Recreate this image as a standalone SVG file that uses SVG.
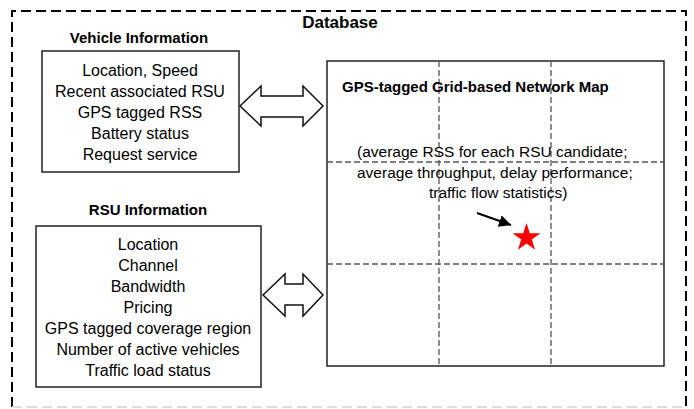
<svg xmlns="http://www.w3.org/2000/svg" width="694" height="409" viewBox="0 0 694 409">
<style>
.t{font-family:"Liberation Sans",Arial,sans-serif;font-size:16px;fill:#000;text-anchor:middle}
.p{font-family:"Liberation Sans",Arial,sans-serif;font-size:15.5px;fill:#000;text-anchor:start}
.b{font-family:"Liberation Sans",Arial,sans-serif;font-weight:bold;fill:#000}
.box{fill:#fff;stroke:#222;stroke-width:1.5}
.grid{stroke:#555;stroke-width:1.3;stroke-dasharray:6 3;fill:none}
.dbl{fill:#fff;stroke:#111;stroke-width:1.5;stroke-linejoin:miter}
</style>
<defs>
<marker id="ah" markerWidth="8" markerHeight="8" refX="6" refY="3" orient="auto" markerUnits="strokeWidth">
<path d="M0,0 L6,3 L0,6 z" fill="#000"/>
</marker>
</defs>
<rect width="694" height="409" fill="#fff"/>
<g id="database">
<path d="M12,407 L12,11 L686,11 L686,407" fill="none" stroke="#000" stroke-width="2" stroke-dasharray="10 5"/>
<path d="M12,407 L686,407" fill="none" stroke="#ddd" stroke-width="2" stroke-dasharray="10 5"/>
<text class="b" x="340" y="28" font-size="17" text-anchor="middle">Database</text>
</g>
<g id="vehicle">
<text class="b" x="139" y="43" font-size="15" text-anchor="middle">Vehicle Information</text>
<rect class="box" x="42" y="51" width="197" height="121"/>
<text class="t" x="140" y="76">Location, Speed</text>
<text class="t" x="140" y="97">Recent associated RSU</text>
<text class="t" x="140" y="118">GPS tagged RSS</text>
<text class="t" x="140" y="139">Battery status</text>
<text class="t" x="140" y="160">Request service</text>
</g>
<g id="rsu">
<text class="b" x="148" y="215" font-size="15" text-anchor="middle">RSU Information</text>
<rect class="box" x="36" y="226" width="225" height="161"/>
<text class="t" x="148" y="250">Location</text>
<text class="t" x="148" y="271">Channel</text>
<text class="t" x="148" y="292">Bandwidth</text>
<text class="t" x="148" y="313">Pricing</text>
<text class="t" x="148" y="334">GPS tagged coverage region</text>
<text class="t" x="148" y="355">Number of active vehicles</text>
<text class="t" x="148" y="376">Traffic load status</text>
</g>
<g id="map">
<rect class="box" x="327" y="61" width="337" height="305" stroke="#444"/>
<line class="grid" x1="439" y1="61" x2="439" y2="366"/>
<line class="grid" x1="551" y1="61" x2="551" y2="366"/>
<line class="grid" x1="327" y1="162" x2="664" y2="162"/>
<line class="grid" x1="327" y1="264" x2="664" y2="264"/>
<text class="b" x="342" y="92" font-size="15">GPS-tagged Grid-based Network Map</text>
<text class="p" x="357" y="157">(average RSS for each RSU candidate;</text>
<text class="p" x="357" y="178">average throughput, delay performance;</text>
<text class="p" x="429" y="198">traffic flow statistics)</text>
<polygon fill="#f00" points="526.5,223 529.8,233.2 540.5,233.2 531.8,239.5 535.1,249.7 526.5,243.4 517.9,249.7 521.2,239.5 512.5,233.2 523.2,233.2"/>
</g>
<g id="connectors">
<path class="dbl" d="M240,106 L261,86 L261,96 L303,96 L303,86 L323,106 L303,126 L303,117 L261,117 L261,126 Z"/>
<path class="dbl" d="M263,295 L285,274 L285,284 L303,284 L303,274 L323,295 L303,316 L303,305 L285,305 L285,316 Z"/>
<line x1="477" y1="213" x2="511" y2="225" stroke="#000" stroke-width="2" marker-end="url(#ah)"/>
</g>
</svg>
